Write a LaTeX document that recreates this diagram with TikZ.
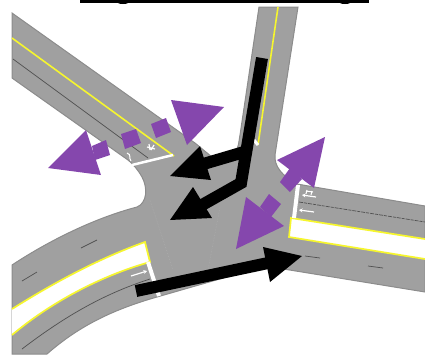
\documentclass[tikz,border=0pt]{standalone}
\usepackage{tikz}
\usetikzlibrary{arrows.meta}
\definecolor{rd-grey}{HTML}{A0A0A0}
\definecolor{rd-edge}{HTML}{8C8C8C}
\definecolor{rd-faint}{HTML}{ABABAB}
\definecolor{rd-line}{HTML}{505050}
\definecolor{rd-yellow}{HTML}{F6F62E}
\definecolor{fl-purple}{HTML}{8547AD}

\begin{document}
\begin{tikzpicture}[x=1pt, y=-1pt, >=Stealth,
    road/.style={fill=rd-grey, draw=rd-edge, line width=1pt},
    laneline/.style={draw=rd-line, line width=0.7pt},
    median/.style={fill=white, draw=rd-yellow, line width=1.7pt},
    stopbar/.style={draw=white, line width=4pt},
    roadmark/.style={draw=white, line width=1.2pt, ->, >={Stealth[length=3.5pt,width=4pt]}},
    flowbad/.style={fill=fl-purple, draw=none},
    flowmain/.style={fill=black, draw=none},
    flowstem/.style={draw=black, line width=12pt, line join=miter}]
    \useasboundingbox (0,0) rectangle (425,354);

    % title bar cut off at the top
    \fill (80,0) rectangle (369,3);
    \fill (123,2) ellipse (6pt and 2pt);
    \fill (345,2) ellipse (6pt and 2pt);

    % carriageway
    \draw[road] (12,13) -- (195,143) -- (212,157) .. controls (222,155) and (230,153) .. (237,149)
        .. controls (239,144) and (239,140) .. (240,135) -- (259,7) -- (298,7) -- (275,155)
        .. controls (274,166) and (282,176) .. (297,184) -- (425,206) -- (425,292) -- (265,266)
        -- (157,297) .. controls (115,309) and (80,325) .. (47,354) -- (12,354) -- (12,265)
        .. controls (50,240) and (95,218) .. (137,207) .. controls (147,203) and (148,188) .. (142,177)
        .. controls (138,170) and (134,165) .. (128,160) -- (12,78) -- cycle;
    \draw[rd-faint, densely dotted, line width=0.6pt] (150,200) -- (173,270);
    \draw[rd-faint, densely dotted, line width=0.6pt] (220,207) -- (208,270);

    % lane lines
    \draw[laneline] (13,59) -- (148,158);
    \draw[laneline] (22,349) .. controls (60,320) and (100,295) .. (150,279);
    \draw[laneline, dash pattern=on 4pt off 1pt on 3pt off 1pt] (299,202) -- (425,222);
    \draw[laneline] (22,281) -- (37,272);
    \draw[laneline] (81,248) -- (97,240);
    \draw[laneline] (305,256) -- (320,258);
    \draw[laneline] (368,266) -- (383,268);

    % yellow edges and medians
    \draw[rd-yellow, line width=1.6pt] (12,38) -- (174,156);
    \draw[rd-yellow, line width=1.6pt] (278,7) -- (258,145);
    \draw[median] (12,309) .. controls (55,282) and (100,258) .. (145,242) -- (150,262)
        .. controls (100,276) and (50,303) .. (12,335);
    \draw[median] (425,239) -- (291,218) -- (289,237) -- (425,259);

    % stop lines and road markings
    \draw[stopbar] (148,262) -- (159,296);
    \draw[stopbar] (294,218) -- (298,185);
    \draw[stopbar, line width=2.5pt] (132,165) -- (173,155);
    \draw[white, line width=3pt] (254,140) -- (258,145);
    \draw[roadmark] (131,276) -- (147,271);
    \draw[roadmark] (314,212) -- (299,210);
    \draw[roadmark] (316,197) -- (302,195);
    \draw[white, line width=1pt] (307,190) -- (306,194) (312,191) -- (311,195) (306,191) -- (313,192);
    \draw[white, line width=1pt] (127,153) .. controls (132,155) and (128,157) .. (131,161);
    \draw[white, line width=1.2pt] (147,147) -- (155,149) (149,144) -- (150,150) (154,145) -- (151,150);

    % purple arrows
    \fill[flowbad] (171,100) -- (224,107) -- (187,145) -- cycle;
    \fill[flowbad] (151,124) -- (166,118) -- (171,132) -- (156,138) -- cycle;
    \fill[flowbad] (121,134) -- (136,129) -- (141,143) -- (125,149) -- cycle;
    \fill[flowbad] (92,146) -- (106,140) -- (110,155) -- (95,160) -- cycle;
    \fill[flowbad] (86,130) -- (48,168) -- (101,175) -- cycle;
    \fill[flowbad] (325,137) -- (277,160) -- (314,188) -- cycle;
    \fill[flowbad] (280,182) -- (290,192) -- (302,179) -- (290,168) -- cycle;
    \fill[flowbad] (246,197) -- (236,249) -- (284,226) -- cycle;
    \fill[flowbad] (269,194) -- (281,204) -- (271,217) -- (260,207) -- cycle;

    % black arrows
    \draw[flowstem] (262,58) -- (241,183) -- (202,205);
    \draw[flowstem] (244,152) -- (200,165);
    \fill[flowmain] (200,146) -- (170,176) -- (211,180) -- cycle;
    \fill[flowmain] (193,187) -- (170,220) -- (212,218) -- cycle;
    \draw[flowstem] (136,291) -- (268,263);
    \fill[flowmain] (263,247) -- (302,256) -- (270,282) -- cycle;
\end{tikzpicture}
\end{document}
